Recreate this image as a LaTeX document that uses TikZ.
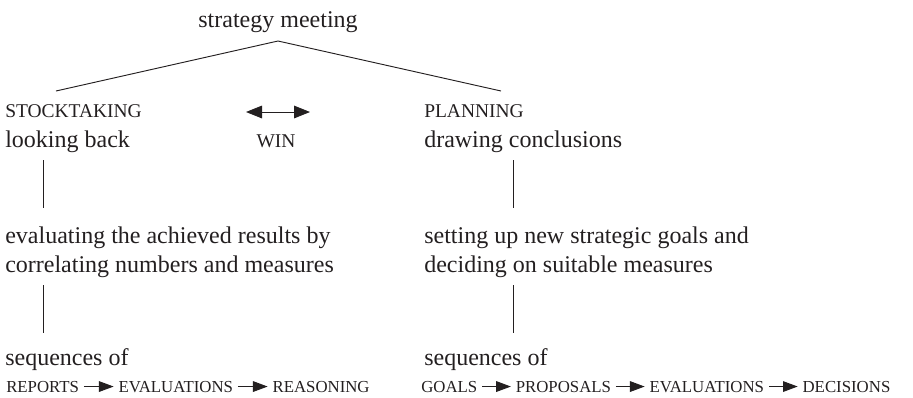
\documentclass[tikz,border=0pt]{standalone}
\usepackage{fontspec}
\setmainfont{Liberation Serif}
\usetikzlibrary{arrows.meta,calc}
\definecolor{ink}{HTML}{231F20}
\tikzset{
  txt/.style={anchor=base west, inner sep=0pt, text=ink, font=\fontsize{18}{21}\selectfont},
  sc/.style={anchor=base west, inner sep=0pt, text=ink, font=\fontsize{14.6}{16}\selectfont},
  scs/.style={anchor=base west, inner sep=0pt, text=ink, text height=8.2pt, text depth=0pt, font=\fontsize{12.6}{14}\selectfont},
  rule/.style={draw=ink, line width=0.7pt},
  seqarrow/.style={draw=ink, line width=0.7pt, -{Triangle[length=11pt,width=8pt]}, shorten <=3.5pt, shorten >=3.5pt},
  dblarrow/.style={draw=ink, line width=0.7pt, {Triangle[length=12pt,width=9.5pt]}-{Triangle[length=12pt,width=9.5pt]}}
}
\begin{document}
\begin{tikzpicture}[x=0.75pt,y=-0.75pt]
\useasboundingbox (0,0) rectangle (913,397);
% top
\node[inner sep=0pt, text=ink, font=\fontsize{18}{21}\selectfont, anchor=base] (sm) at (278,27) {strategy meeting};
\coordinate (apex) at (278,41);
\coordinate (lend) at (56,91);
\coordinate (rend) at (501,91);
\draw[rule] (lend) -- (apex) -- (rend);
% left column
\node[sc] (st) at (5,117) {STOCKTAKING};
\node[txt] (lb) at (5,147) {looking back};
\node[txt] (ev1) at (5,243) {evaluating the achieved results by};
\node[txt] (ev2) at (5,272) {correlating numbers and measures};
\node[txt] (sq1) at (5,365) {sequences of};
\coordinate (l1a) at (43,160);
\coordinate (l1b) at (43,208);
\coordinate (l2a) at (43,285);
\coordinate (l2b) at (43,333);
\draw[rule] (l1a) -- (l1b);
\draw[rule] (l2a) -- (l2b);
% middle
\coordinate (wa) at (246,112);
\coordinate (wb) at (310,112);
\draw[dblarrow] (wa) -- (wb);
\node[sc, anchor=base] (win) at (276,147) {WIN};
% right column
\node[sc] (pl) at (424,117) {PLANNING};
\node[txt] (dc) at (424,147) {drawing conclusions};
\node[txt] (su1) at (424,243) {setting up new strategic goals and};
\node[txt] (su2) at (424,272) {deciding on suitable measures};
\node[txt] (sq2) at (424,365) {sequences of};
\coordinate (r1a) at (513,160);
\coordinate (r1b) at (513,208);
\coordinate (r2a) at (513,285);
\coordinate (r2b) at (513,333);
\draw[rule] (r1a) -- (r1b);
\draw[rule] (r2a) -- (r2b);
% bottom sequences
\node[scs] (rep) at (6,392) {REPORTS};
\node[scs] (evl) at ($(rep.base east)+(39,0)$) {EVALUATIONS};
\node[scs] (rea) at ($(evl.base east)+(39,0)$) {REASONING};
\draw[seqarrow] (rep) -- (evl);
\draw[seqarrow] (evl) -- (rea);
\node[scs] (goa) at (421,392) {GOALS};
\node[scs] (pro) at ($(goa.base east)+(38,0)$) {PROPOSALS};
\node[scs] (ev3) at ($(pro.base east)+(38,0)$) {EVALUATIONS};
\node[scs] (dec) at ($(ev3.base east)+(38,0)$) {DECISIONS};
\draw[seqarrow] (goa) -- (pro);
\draw[seqarrow] (pro) -- (ev3);
\draw[seqarrow] (ev3) -- (dec);
\end{tikzpicture}
\end{document}
